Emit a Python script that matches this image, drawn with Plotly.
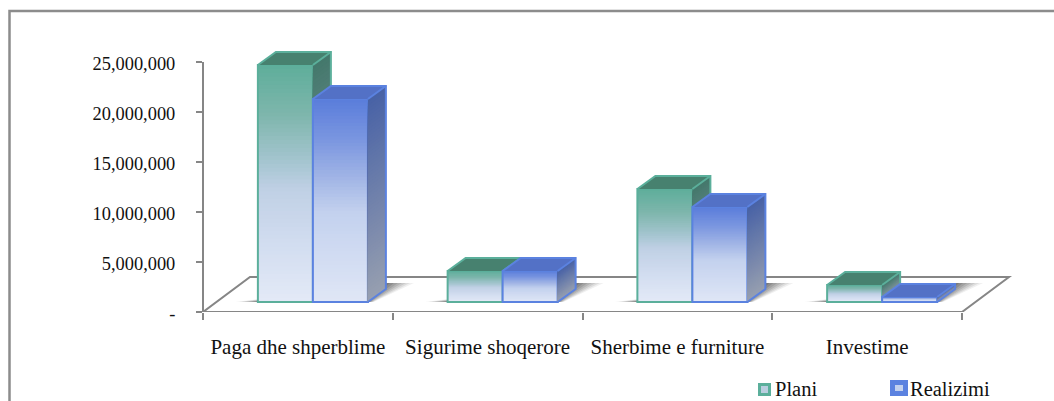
import plotly.graph_objects as go

categories = ["Paga dhe shperblime", "Sigurime shoqerore", "Sherbime e furniture", "Investime"]
plani = [23700000, 3100000, 11300000, 1700000]
realizimi = [20300000, 3100000, 9500000, 500000]
y_ticks = [0, 5000000, 10000000, 15000000, 20000000, 25000000]
y_labels = ["-", "5,000,000", "10,000,000", "15,000,000", "20,000,000", "25,000,000"]

W, H = 1054, 401
L, R, T, B = 203, 1020, 40, 312
PX_X = (962 - 203) / 4
PX_Y = 250 / 25000000
STEPS = 60
BAR_W = 55 / PX_X
DX, DY = 18 / PX_X, 13 / PX_Y
FLOOR_Y = 10 / PX_Y
FX, FY = 47 / PX_X, 35 / PX_Y
X_MAX = -0.5 + (R - L) / PX_X
Y_MAX = (B - T) / PX_Y


def lerp(stops, t):
    for (a, ca), (b, cb) in zip(stops, stops[1:]):
        if t <= b:
            f = (t - a) / (b - a)
            c = [round(p + (q - p) * f) for p, q in zip(ca, cb)]
            return f"rgb({c[0]},{c[1]},{c[2]})"
    c = stops[-1][1]
    return f"rgb({c[0]},{c[1]},{c[2]})"


STYLES = [
    dict(name="Plani", values=plani, left=-40 / PX_X, xa="x2", ya="y2", edge="#5BAF9B", top="#47816F",
         front=[(0, (95, 174, 155)), (.2, (126, 182, 172)), (.4, (165, 197, 208)), (.52, (192, 208, 229)),
                (.75, (210, 221, 240)), (1, (228, 234, 247))],
         side=[(0, (68, 120, 108)), (1, (152, 160, 176))]),
    dict(name="Realizimi", values=realizimi, left=15 / PX_X, xa="x3", ya="y3", edge="#5B82E0", top="#5371C6",
         front=[(0, (91, 126, 219)), (.2, (124, 151, 224)), (.4, (165, 184, 230)), (.55, (195, 209, 238)),
                (1, (224, 231, 246))],
         side=[(0, (72, 98, 166)), (1, (152, 160, 176))]),
]

fig = go.Figure()

# invisible trace that carries the visible axes; legend entries
fig.add_trace(go.Scatter(x=categories, y=plani, mode="markers", marker=dict(opacity=0), showlegend=False,
                         hoverinfo="skip"))
for s in STYLES:
    fig.add_trace(go.Scatter(x=[categories[0]], y=[None], mode="markers", name=s["name"],
                             marker=dict(symbol="square", size=1, color="rgba(0,0,0,0)")))

for s in STYLES:
    xs = [i + s["left"] for i in range(4)]
    vals = s["values"]
    common = dict(xaxis=s["xa"], yaxis=s["ya"], showlegend=False, hoverinfo="skip", cliponaxis=False)
    # front face: overlaid bars, tallest first, each a lighter step of the gradient
    for k in range(STEPS):
        t = k / STEPS
        fig.add_trace(go.Bar(x=xs, y=[v * (1 - t) for v in vals], width=BAR_W, offset=0,
                             marker=dict(color=lerp(s["front"], t), line=dict(width=0)), **common))
    fig.add_trace(go.Bar(x=xs, y=vals, width=BAR_W, offset=0,
                         marker=dict(color="rgba(0,0,0,0)", line=dict(color=s["edge"], width=2)), **common))
    # side face: overlaid polygons, tallest first
    for k in range(STEPS):
        t0 = k / STEPS
        px, py = [], []
        for x, v in zip(xs, vals):
            xr = x + BAR_W
            y0 = v * (1 - t0)
            px += [xr, xr + DX, xr + DX, xr, xr, None]
            py += [y0, y0 + DY, DY, 0, y0, None]
        fig.add_trace(go.Scatter(x=px, y=py, mode="lines", fill="toself", fillcolor=lerp(s["side"], t0),
                                 line=dict(width=0), **common))
    # top face and outline of the depth
    px, py, ox, oy = [], [], [], []
    for x, v in zip(xs, vals):
        xr = x + BAR_W
        px += [x, x + DX, xr + DX, xr, x, None]
        py += [v, v + DY, v + DY, v, v, None]
        ox += [x, x + DX, xr + DX, xr + DX, xr, None, xr, xr + DX, None]
        oy += [v, v + DY, v + DY, DY, 0, None, v, v + DY, None]
    fig.add_trace(go.Scatter(x=px, y=py, mode="lines", fill="toself", fillcolor=s["top"], line=dict(width=0),
                             **common))
    fig.add_trace(go.Scatter(x=ox, y=oy, mode="lines", line=dict(color=s["edge"], width=2), **common))


def poly(pts):
    return "M" + " L".join(f"{x},{y}" for x, y in pts) + " Z"


def fx(p):
    return (p - L) / (R - L)


def fy(p):
    return (B - p) / (B - T)


shapes = []
# floor outline
fl = [(-0.5, -FLOOR_Y), (-0.5 + FX, FY - FLOOR_Y), (3.5 + FX, FY - FLOOR_Y), (3.5, -FLOOR_Y)]
shapes.append(dict(type="path", path=poly(fl), xref="x2", yref="y2", layer="below",
                   line=dict(color="#868686", width=2), fillcolor="white"))
# soft floor shadows behind each bar group
SH_H = 19 / PX_Y
for i in range(4):
    x0 = i + STYLES[0]["left"]
    x1 = i + STYLES[1]["left"] + BAR_W
    for grow, alpha in [(28, .08), (24, .10), (20, .12), (16, .14), (12, .16), (8, .20), (4, .24)]:
        g = grow / PX_X
        shapes.append(dict(type="path", xref="x2", yref="y2", layer="below", line=dict(width=0),
                           fillcolor=f"rgba(60,60,60,{alpha})",
                           path=poly([(x0 - g * .8, 0), (x1 + g * .2, 0), (x1 + DX + g, SH_H), (x1 + DX, SH_H)])))
# value axis line
shapes.append(dict(type="line", xref="paper", yref="y", x0=0, x1=0, y0=0, y1=25000000, layer="above",
                   line=dict(color="#868686", width=2)))
# outer frame of the chart, in pixels of the page
shapes.append(dict(type="path", xref="paper", yref="paper", layer="below", line=dict(color="#8C8C8C", width=2.5),
                   path=f"M{fx(9.5)},{fy(403)} L{fx(9.5)},{fy(11)} L{fx(1056)},{fy(11)}"))
# legend swatches
for (x0, x1, y0, y1, inset, edge, inner) in [(758, 771, 383, 396, 3, "#5BAF9B", "#B9CEDF"),
                                             (890, 908, 380, 396, 5, "#5B82E0", "#C3D1EE")]:
    shapes.append(dict(type="rect", xref="paper", yref="paper", x0=fx(x0), x1=fx(x1), y0=fy(y1), y1=fy(y0),
                       fillcolor=edge, line=dict(width=0)))
    shapes.append(dict(type="rect", xref="paper", yref="paper", x0=fx(x0 + inset), x1=fx(x1 - inset),
                       y0=fy(y1 - inset), y1=fy(y0 + inset), fillcolor=inner, line=dict(width=0)))

FONT = "Liberation Serif"
fig.update_layout(
    width=W, height=H, margin=dict(l=L, r=W - R, t=T, b=H - B, pad=0, autoexpand=False),
    paper_bgcolor="white", plot_bgcolor="rgba(0,0,0,0)", barmode="overlay", shapes=shapes,
    font=dict(family=FONT, size=18, color="#111111"),
    legend=dict(orientation="h", x=fx(735), y=fy(388), xanchor="left", yanchor="middle",
                entrywidth=90, entrywidthmode="pixels", bgcolor="rgba(0,0,0,0)", itemclick=False,
                font=dict(size=20.5, family=FONT)),
    xaxis=dict(type="category", categoryorder="array", categoryarray=categories,
               range=[-0.5, X_MAX], tickson="boundaries", ticks="outside", ticklen=7, tickwidth=2, tickcolor="#868686",
               showline=False, showgrid=False, zeroline=False,
               ticklabelstandoff=20, tickfont=dict(size=21, family=FONT), tickangle=0),
    yaxis=dict(range=[0, Y_MAX], tickvals=y_ticks, ticktext=y_labels, ticks="outside", ticklen=6, tickwidth=2,
               tickcolor="#868686", showline=False, showgrid=False, zeroline=False,
               ticklabelstandoff=17, ticklabelshift=2, tickfont=dict(size=18.4, family=FONT)),
)
yr = [-FLOOR_Y, Y_MAX - FLOOR_Y]
hidden = dict(visible=False, fixedrange=True)
fig.update_layout(
    xaxis2=dict(range=[-0.5, X_MAX], overlaying="x", anchor="y2", **hidden),
    yaxis2=dict(range=yr, overlaying="y", anchor="x2", **hidden),
    xaxis3=dict(range=[-0.5, X_MAX], overlaying="x", anchor="y3", **hidden),
    yaxis3=dict(range=yr, overlaying="y", anchor="x3", **hidden),
)
fig.write_html("out.html", config=dict(displayModeBar=False),
               post_script="document.body.style.margin='0';document.body.style.overflow='hidden';")
